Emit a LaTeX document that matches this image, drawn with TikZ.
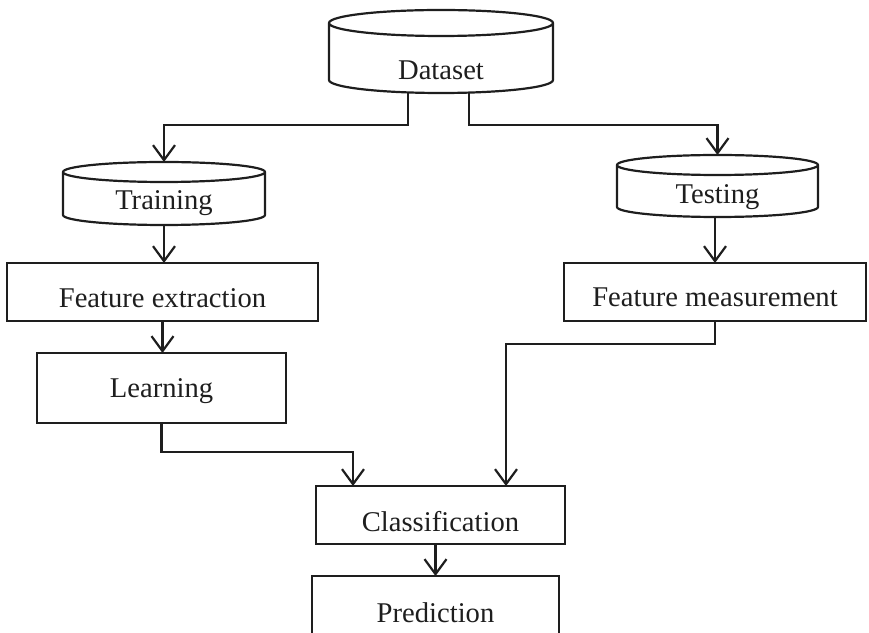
\documentclass[tikz,border=0pt]{standalone}
\usepackage{fontspec}
\setmainfont{Liberation Serif}
\usetikzlibrary{calc,arrows.meta}
\definecolor{ink}{HTML}{1E1E1E}
\tikzset{
  line/.style={draw=ink, line width=2.2pt},
  arr/.style={line, -{Straight Barb[length=15pt,width=22pt,line width=2.2pt]}},
  boxnode/.style={line, rectangle, inner sep=0pt, outer sep=0pt, text depth=0pt,
    font=\fontsize{28.6}{34}\selectfont, text=ink},
  cylnode/.style={rectangle, inner sep=0pt, outer sep=0pt, text depth=0pt,
    font=\fontsize{28.6}{34}\selectfont, text=ink}
}
\newcommand\drawcyl[3]{%
  \draw[line] (#1.north west) ++(0,-#3pt) -- ($(#1.south west)+(0,#3pt)$)
      arc[start angle=180, end angle=360, x radius=#2pt, y radius=#3pt]
      -- ($(#1.north east)+(0,-#3pt)$)
    ($(#1.north)+(0,-#3pt)$) ellipse[x radius=#2pt, y radius=#3pt];}
\begin{document}
\begin{tikzpicture}[x=1pt,y=1pt]
\useasboundingbox (0,0) rectangle (869,632);
\clip (0,0) rectangle (869,632);
% cylinders
\node[cylnode, minimum width=224pt, minimum height=83pt, text height=57pt] (dataset) at (441,580.5) {Dataset};
\node[cylnode, minimum width=202pt, minimum height=63pt, text height=33pt] (training) at (164,438.5) {Training};
\node[cylnode, minimum width=201pt, minimum height=62pt, text height=36pt] (testing) at (717.5,446) {Testing};
\drawcyl{dataset}{112}{13}
\drawcyl{training}{101}{10}
\drawcyl{testing}{100.5}{10}
% boxes
\node[boxnode, minimum width=311pt, minimum height=58pt, text height=32pt] (fe) at (162.5,340) {Feature extraction};
\node[boxnode, minimum width=249pt, minimum height=70pt, text height=20pt] (learning) at (161.5,244) {Learning};
\node[boxnode, minimum width=302pt, minimum height=58pt, text height=30pt] (fm) at (715,340) {Feature measurement};
\node[boxnode, minimum width=249pt, minimum height=58pt, text height=32pt] (class) at (440.5,117) {Classification};
\node[boxnode, minimum width=247pt, minimum height=58pt, text height=34pt] (pred) at (435.5,27) {Prediction};
% connectors
\draw[arr] ([xshift=-33pt]dataset.south) -- ++(0,-32) -| (training.north);
\draw[arr] ([xshift=28pt]dataset.south) -- ++(0,-32) -| (testing.north);
\draw[arr] (training.south) -- (training.south |- fe.north);
\draw[arr] (fm.north |- testing.south) -- (fm.north);
\draw[arr] (fe.south) -- (fe.south |- learning.north);
\draw[arr] (learning.south) -- ++(0,-29) -| ([xshift=-87.5pt]class.north);
\draw[arr] (fm.south) -- ++(0,-23) -| ([xshift=65.5pt]class.north);
\draw[arr] (pred.north |- class.south) -- (pred.north);
\end{tikzpicture}
\end{document}
